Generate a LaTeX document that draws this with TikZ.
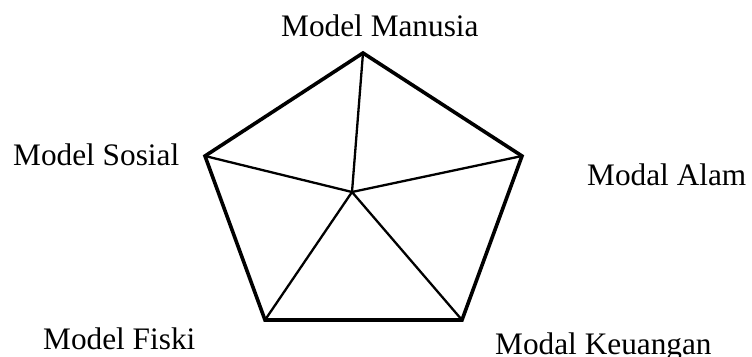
\documentclass[tikz,border=0pt]{standalone}
\usepackage{fontspec}
\setmainfont{Liberation Serif}
\usepackage{tikz}

\begin{document}
\begin{tikzpicture}[x=1pt,y=-1pt, every node/.style={font=\fontsize{31.3}{36}\selectfont,inner sep=0pt},
lbl/.style={anchor=base west},
rim/.style={line width=3.6pt,line join=miter},
spoke/.style={line width=2.3pt}]
\useasboundingbox (0,0) rectangle (752,356);
\coordinate (manusia) at (363,53);
\coordinate (alam) at (522,156);
\coordinate (keuangan) at (462,320);
\coordinate (fisik) at (265,320);
\coordinate (sosial) at (205,156);
\coordinate (mid) at (352,192);
\node[lbl] (tmanusia) at (281,36) {Model Manusia};
\node[lbl] (tsosial) at (13,165) {Model Sosial};
\node[lbl] (talam) at (587,185) {Modal Alam};
\node[lbl] (tfisik) at (43,349) {Model Fiski};
\node[lbl] (tkeuangan) at (495,354) {Modal Keuangan};
\draw[spoke] (mid)--(manusia);\draw[spoke] (mid)--(alam);\draw[spoke] (mid)--(keuangan);
\draw[spoke] (mid)--(fisik);\draw[spoke] (mid)--(sosial);
\draw[rim] (manusia)--(alam)--(keuangan)--(fisik)--(sosial)--cycle;
\end{tikzpicture}
\end{document}
